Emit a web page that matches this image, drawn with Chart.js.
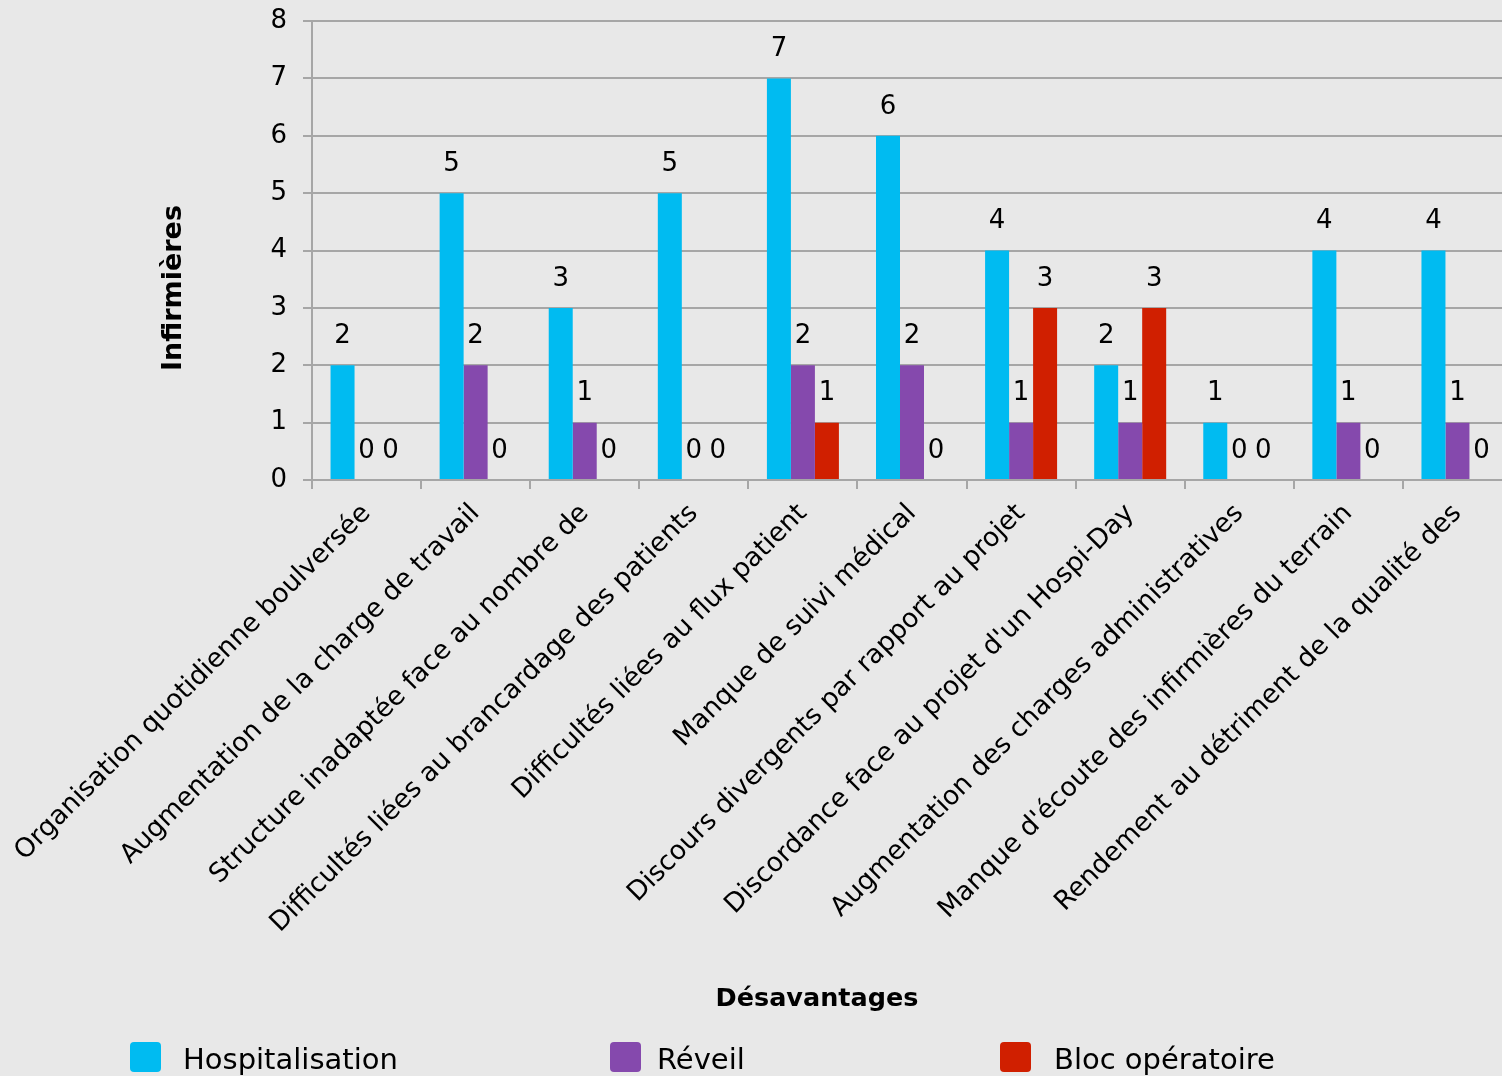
<!DOCTYPE html>
<html>
<head>
<meta charset="utf-8">
<script src="https://cdn.jsdelivr.net/npm/chart.js@4.4.1/dist/chart.umd.min.js"></script>
<style>
  html, body { margin: 0; padding: 0; background: #e8e8e8; overflow: hidden; width: 1502px; height: 1076px; }
  #wrap { position: relative; width: 1512px; height: 1076px; }
  #chart { position: absolute; left: 0; top: 0; }
  .leg { position: absolute; top: 1042px; height: 30px; font: 29px "DejaVu Sans", Verdana, sans-serif; color: #000; line-height: 29px; white-space: nowrap; }
  .leg .box { position: absolute; left: 0; top: 0; width: 31px; height: 30px; border-radius: 4px; }
  .leg .txt { position: absolute; top: 3px; }
</style>
</head>
<body>
<div id="wrap">
  <canvas id="chart" width="1512" height="1076"></canvas>
  <div id="legend"></div>
</div>
<script>
const categories = [
  "Organisation quotidienne boulversée",
  "Augmentation de la charge de travail",
  "Structure inadaptée face au nombre de",
  "Difficultés liées au brancardage des patients",
  "Difficultés liées au flux patient",
  "Manque de suivi médical",
  "Discours divergents par rapport au projet",
  "Discordance face au projet d'un Hospi-Day",
  "Augmentation des charges administratives",
  "Manque d'écoute des infirmières du terrain",
  "Rendement au détriment de la qualité des"
];
const seriesNames = ["Hospitalisation", "Réveil", "Bloc opératoire"];
const hospitalisation = [2, 5, 3, 5, 7, 6, 4, 2, 1, 4, 4];
const reveil          = [0, 2, 1, 0, 2, 2, 1, 1, 0, 1, 1];
const blocOperatoire  = [0, 0, 0, 0, 1, 0, 3, 3, 0, 0, 0];
const seriesColors = ["#00bbf1", "#8549ad", "#d01f00"];
const yTicks = [0, 1, 2, 3, 4, 5, 6, 7, 8];
const xTitle = "Désavantages";
const yTitle = "Infirmières";

const FONT = '"DejaVu Sans", Verdana, sans-serif';
Chart.defaults.font.family = FONT;
Chart.defaults.color = "#000";

const valueLabels = {
  id: "valueLabels",
  afterDatasetsDraw(chart) {
    const ctx = chart.ctx;
    ctx.save();
    ctx.font = "26px " + FONT;
    ctx.fillStyle = "#000";
    ctx.textAlign = "center";
    ctx.textBaseline = "middle";
    chart.data.datasets.forEach((ds, i) => {
      const meta = chart.getDatasetMeta(i);
      meta.data.forEach((el, j) => {
        ctx.fillText(String(ds.data[j]), el.x, el.y - 29);
      });
    });
    ctx.restore();
  }
};

const axisTitles = {
  id: "axisTitles",
  afterDraw(chart) {
    const ctx = chart.ctx;
    ctx.save();
    ctx.fillStyle = "#000";
    ctx.textAlign = "center";
    ctx.textBaseline = "middle";
    ctx.font = "bold 25.5px " + FONT;
    ctx.fillText(xTitle, 817, 999);
    ctx.font = "bold 27px " + FONT;
    ctx.translate(174, 288);
    ctx.rotate(-Math.PI / 2);
    ctx.fillText(yTitle, 0, 0);
    ctx.restore();
  }
};

const datasets = [hospitalisation, reveil, blocOperatoire].map((d, i) => ({
  label: seriesNames[i],
  data: d,
  backgroundColor: seriesColors[i],
  borderWidth: 0,
  categoryPercentage: 0.66,
  barPercentage: 1.0
}));

new Chart(document.getElementById("chart"), {
  type: "bar",
  data: { labels: categories, datasets },
  options: {
    responsive: false,
    animation: false,
    layout: { padding: { top: 21, left: 0, right: 0, bottom: 0 } },
    plugins: { legend: { display: false }, tooltip: { enabled: false }, title: { display: false } },
    scales: {
      x: {
        grid: { display: true, drawOnChartArea: false, drawTicks: true, tickLength: 9, color: "#a6a6a6", lineWidth: 2, offset: true },
        border: { display: true, color: "#a6a6a6", width: 2 },
        ticks: { font: { size: 26.5 }, color: "#000", minRotation: 45, maxRotation: 45, autoSkip: false, padding: 9 },
        afterFit(scale) { scale.height = 596; scale.paddingLeft = 0; scale.paddingRight = 0; }
      },
      y: {
        min: 0, max: 8,
        afterBuildTicks(scale) { scale.ticks = yTicks.map(v => ({ value: v })); },
        grid: { color: "#a6a6a6", lineWidth: 2, tickLength: 9, drawTicks: true },
        border: { display: true, color: "#a6a6a6", width: 2 },
        ticks: { font: { size: 26 }, color: "#000", padding: 16 },
        afterFit(scale) { scale.width = 312; scale.paddingTop = 0; scale.paddingBottom = 0; }
      }
    }
  },
  plugins: [valueLabels, axisTitles]
});

// HTML legend built from series names and colours
const legendLefts = [130, 610, 1000];
const legendEl = document.getElementById("legend");
seriesNames.forEach((name, i) => {
  const item = document.createElement("div");
  item.className = "leg";
  item.style.left = legendLefts[i] + "px";
  item.innerHTML = '<span class="box" style="background:' + seriesColors[i] + '"></span><span class="txt" style="left:' + (i === 0 ? 53 : i === 1 ? 47 : 54) + 'px">' + name + '</span>';
  legendEl.appendChild(item);
});
</script>
</body>
</html>
